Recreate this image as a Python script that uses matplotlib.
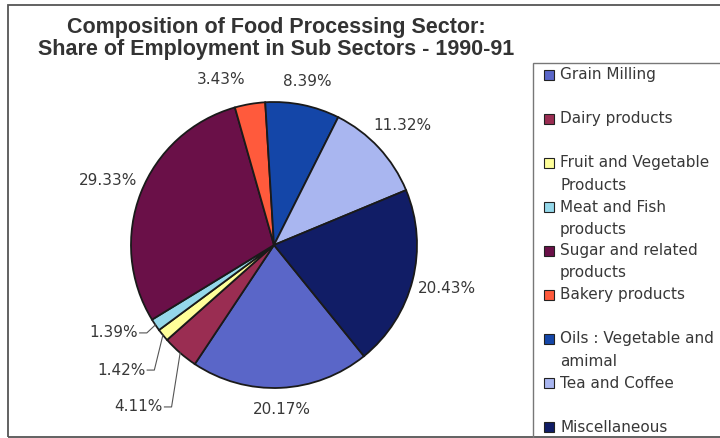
import matplotlib
matplotlib.use('Agg')
import matplotlib.pyplot as plt
from matplotlib.patches import Rectangle
import numpy as np

# data, in legend order
sectors = ['Grain Milling', 'Dairy products', 'Fruit and Vegetable\nProducts',
           'Meat and Fish\nproducts', 'Sugar and related\nproducts', 'Bakery products',
           'Oils : Vegetable and\namimal', 'Tea and Coffee', 'Miscellaneous']
shares = [20.17, 4.11, 1.42, 1.39, 29.33, 3.43, 8.39, 11.32, 20.43]
colors = ['#5a66c8', '#9a2d52', '#ffff99', '#95d8ea', '#6a1048',
          '#ff5a3c', '#1446a8', '#a9b6f0', '#111d66']

title1 = 'Composition of Food Processing Sector:'
title2 = 'Share of Employment in Sub Sectors - 1990-91'

W, H = 720, 438
R = 143.0            # pie radius in px
cx, cy = 274, 245    # pie centre (px from top-left)
txt = '#383838'

fig = plt.figure(figsize=(W / 100, H / 100), dpi=100)

# outer chart frame and legend box (both run off the right edge)
fig.patches.append(Rectangle((8 / W, 1 - 437 / H), 1.0, (437 - 5) / H,
                             transform=fig.transFigure, fill=False,
                             ec='#555555', lw=1.3))
fig.patches.append(Rectangle((533 / W, -0.1), 1.0, 0.1 + (H - 63) / H,
                             transform=fig.transFigure, fill=False,
                             ec='#777777', lw=1.0))

ax = fig.add_axes([(cx - 260) / W, (H - cy - 190) / H, 520 / W, 380 / H])
wedges, _ = ax.pie(shares, colors=colors, startangle=-51, counterclock=False,
                   radius=1, wedgeprops=dict(edgecolor='#1a1a1a', linewidth=1.3))
ax.set_xlim(-260 / R, 260 / R)
ax.set_ylim(-190 / R, 190 / R)
ax.set_aspect('auto')
ax.axis('off')

# small slices in the lower left get leader lines (text right edge drop below slice edge)
leader = {1: -0.378, 2: -0.245, 3: -0.056}
nudge = {5: (-0.17, 0.01)}

for i, w in enumerate(wedges):
    phi = np.radians((w.theta1 + w.theta2) / 2)
    ex, ey = np.cos(phi), np.sin(phi)
    lab = f'{shares[i]:.2f}%'
    if i in leader:
        tx, ty = ex - 0.12, ey + leader[i]
        ax.text(tx, ty, lab, ha='right', va='center', fontsize=11, color=txt)
        ax.plot([tx + 0.01, tx + 0.06, ex], [ty, ty, ey], color='#555555', lw=0.8)
    else:
        r = 1.15 + 0.1 * abs(ex)
        dx, dy = nudge.get(i, (0, 0))
        ax.text(r * ex + dx, r * ey + dy, lab, ha='center', va='center',
                fontsize=11, color=txt)

# title
for k, t in enumerate([title1, title2]):
    fig.text(276 / W, 1 - (27 + 22 * k) / H, t, ha='center', va='center',
             fontsize=15.5, fontweight='bold', family='Liberation Sans', color='#333333')

# legend, evenly spaced entries
for i, name in enumerate(sectors):
    y0 = 75 + 44 * i
    fig.patches.append(Rectangle((544 / W, 1 - (y0 + 5) / H), 10 / W, 10 / H,
                                 transform=fig.transFigure, fc=colors[i],
                                 ec='#222222', lw=0.8))
    for k, line in enumerate(name.split('\n')):
        fig.text(560 / W, 1 - (y0 + 22 * k) / H, line, ha='left', va='center',
                 fontsize=11, color=txt)

fig.savefig('out.png', dpi=100)
